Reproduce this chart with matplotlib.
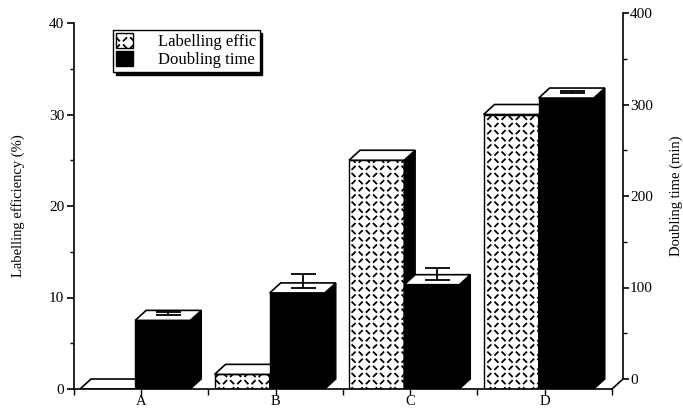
import matplotlib
matplotlib.use('Agg')
import matplotlib.pyplot as plt
import matplotlib.hatch as mhatch
from matplotlib.patches import Polygon, Patch
from matplotlib.path import Path
import numpy as np

# ---------------- data ----------------
categories = ['A', 'B', 'C', 'D']
labelling_eff = [0.0, 1.6, 25.0, 30.0]        # % (left axis)
doubling_time = [75, 105, 114, 318]           # min (right axis)
doubling_err = [4, 15, 13, 2]                 # min (upper error)
left_ticks = [0, 10, 20, 30, 40]
right_ticks = [0, 100, 200, 300, 400]
legend_labels = ['Labelling effic', 'Doubling time']


# ---------------- custom "diamond plate" hatch ----------------
class DiamondDash(mhatch.HatchPatternBase):
    def __init__(self, hatch, density):
        self.n = hatch.count('.') * 7
        self.num_vertices = (2 * self.n) ** 2 * 2 if self.n else 0

    def set_vertices_and_codes(self, vertices, codes):
        n2 = 2 * self.n
        s = 1.0 / n2
        h = 0.19 * s
        k = 0
        for i in range(n2):
            for j in range(n2):
                cx = (i + 0.5) * s
                cy = (j + 0.5) * s
                if (i + j) % 2 == 0:
                    vertices[k] = (cx - h, cy + h)
                    vertices[k + 1] = (cx + h, cy - h)
                else:
                    vertices[k] = (cx - h, cy - h)
                    vertices[k + 1] = (cx + h, cy + h)
                codes[k] = Path.MOVETO
                codes[k + 1] = Path.LINETO
                k += 2


mhatch._hatch_types = [DiamondDash]
HATCH = '.'

plt.rcParams['font.family'] = ['Liberation Serif', 'DejaVu Serif']
plt.rcParams['hatch.linewidth'] = 1.3
plt.rcParams['hatch.color'] = 'black'

W, H = 683, 409
fig = plt.figure(figsize=(W / 100, H / 100), dpi=100)

# front plane axes (left axis)
AX_L, AX_R, AX_T, AX_B = 74, 612, 23, 389
ax = fig.add_axes([AX_L / W, (H - AX_B) / H, (AX_R - AX_L) / W, (AX_B - AX_T) / H])
ax.set_xlim(0, 4)
ax.set_ylim(0, 40)

# depth offsets (pixels) for the 3-D look
DX, DY = 11, 10
ddx = DX * 4 / (AX_R - AX_L)
ddy = DY * 40 / (AX_B - AX_T)

# back plane axes (right axis)
ax2 = fig.add_axes([(AX_L + DX) / W, (H - AX_B + DY) / H, (AX_R - AX_L) / W, (AX_B - AX_T) / H])
ax2.set_ylim(0, 400)
ax2.set_xlim(0, 4)
ax2.patch.set_visible(False)
for sp in ['left', 'top', 'bottom']:
    ax2.spines[sp].set_visible(False)
ax2.spines['right'].set_linewidth(1.2)
ax2.set_xticks([])
ax2.yaxis.tick_right()
ax2.set_yticks(right_ticks)
ax2.set_yticks([50, 150, 250, 350], minor=True)
ax2.tick_params(axis='y', which='major', direction='out', length=4, width=1.2, labelsize=11, pad=1)
ax2.tick_params(axis='y', which='minor', direction='out', length=3, width=1.0)
ax2.set_ylabel('Doubling time (min)', fontsize=10.5, rotation=90, labelpad=12)
ax2.yaxis.set_label_position('right')
ax2.set_zorder(0)
ax.set_zorder(1)
ax.patch.set_visible(False)

x = np.arange(len(categories))
w = 0.41
x_h = x + 0.045
x_b = x + 0.455
dt_scaled = [v / 10.0 for v in doubling_time]
err_scaled = [e / 10.0 for e in doubling_err]


def draw_box(x0, width, val, face_front, hatch, side_color):
    # front
    ax.bar(x0, val, width=width, align='edge', color=face_front, hatch=hatch,
           edgecolor='black', linewidth=1.0, zorder=2)
    # side
    side = Polygon([(x0 + width, 0), (x0 + width + ddx, ddy),
                    (x0 + width + ddx, val + ddy), (x0 + width, val)],
                   closed=True, facecolor=side_color, edgecolor='black', linewidth=1.0, zorder=2)
    ax.add_patch(side)
    # top
    top = Polygon([(x0, val), (x0 + width, val), (x0 + width + ddx, val + ddy), (x0 + ddx, val + ddy)],
                  closed=True, facecolor='white', edgecolor='black', linewidth=1.2, zorder=2)
    ax.add_patch(top)


for i in range(len(categories)):
    draw_box(x_h[i], w, labelling_eff[i], 'white', HATCH, 'black')
    draw_box(x_b[i], w, dt_scaled[i], 'black', None, 'black')
    cx = x_b[i] + w / 2 + ddx / 2
    cy = dt_scaled[i] + ddy / 2
    ax.errorbar([cx], [cy], yerr=[[0], [err_scaled[i]]], fmt='none', ecolor='black',
                elinewidth=1.3, capsize=9, capthick=1.3, zorder=3)

# axes styling
for sp in ['top', 'right']:
    ax.spines[sp].set_visible(False)
ax.spines['left'].set_linewidth(1.2)
ax.spines['bottom'].set_linewidth(1.2)
ax.set_yticks(left_ticks)
ax.set_yticks([5, 15, 25, 35], minor=True)
ax.tick_params(axis='y', which='major', direction='out', length=5, width=1.2, labelsize=11, pad=2)
ax.tick_params(axis='y', which='minor', direction='out', length=3, width=1.0)
ax.set_ylabel('Labelling efficiency (%)', fontsize=10.5, labelpad=17)

ax.set_xticks(x + 0.5)
ax.set_xticklabels(categories, fontsize=10.5)
ax.set_xticks(np.arange(0, 5), minor=True)
ax.tick_params(axis='x', which='major', direction='out', length=4, width=1.0, pad=0)
ax.tick_params(axis='x', which='minor', direction='out', length=4, width=1.0)

# connector from front bottom-right to the back right axis
ax.plot([4, 4 + ddx], [0, ddy], color='black', linewidth=1.2, clip_on=False, zorder=3)

# legend
handles = [Patch(facecolor='white', edgecolor='black', hatch=HATCH, linewidth=1.0),
           Patch(facecolor='black', edgecolor='black', linewidth=1.0)]
leg = fig.legend(handles, legend_labels, loc='upper left',
                 bbox_to_anchor=(113 / W, 1 - 30 / H), borderaxespad=0, fontsize=12,
                 frameon=True, fancybox=False, edgecolor='black', framealpha=1,
                 shadow={'color': 'black', 'alpha': 1},
                 handlelength=1.0, handleheight=1.0, handletextpad=1.5,
                 borderpad=0.2, labelspacing=0.05)
leg.get_frame().set_linewidth(1.0)

fig.savefig('out.png', dpi=100)
